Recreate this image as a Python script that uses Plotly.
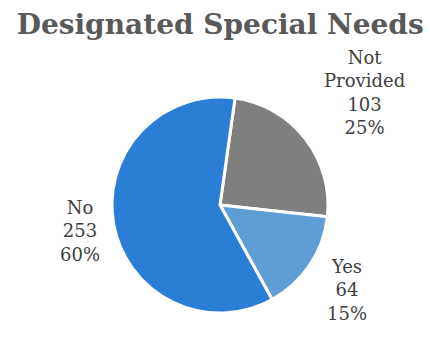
import math
import plotly.graph_objects as go

# Designated special needs breakdown
categories = ["Not Provided", "Yes", "No"]
label_lines = [["Not", "Provided"], ["Yes"], ["No"]]
counts = [103, 64, 253]
slice_colors = ["#7f7f7f", "#5f9ed4", "#2b7ed6"]

total = sum(counts)
percents = [round(100 * c / total) for c in counts]

W, H = 430, 339
cx, cy, r = 220, 205, 108  # pie centre and radius in pixels
start_deg = 8               # first slice starts a little clockwise of 12 o'clock
label_gap = 12              # space between the rim and the label box
font_size = 18
line_h = font_size * 1.3
char_w = font_size * 0.6

fig = go.Figure()
fig.add_trace(go.Pie(
    labels=categories,
    values=counts,
    textinfo="none",
    sort=False,
    direction="clockwise",
    rotation=start_deg,
    marker=dict(colors=slice_colors, line=dict(color="white", width=3)),
    domain=dict(x=[(cx - r) / W, (cx + r) / W], y=[(H - cy - r) / H, (H - cy + r) / H]),
    showlegend=False,
    hoverinfo="label+value+percent",
))

# Data labels: centred on each slice's mid-angle, just outside the rim
cum = 0
for lines, c, p in zip(label_lines, counts, percents):
    mid = math.radians(start_deg + 360 * (cum + c / 2) / total)
    cum += c
    rows = lines + [str(c), f"{p}%"]
    half_w = max(len(s) for s in rows) * char_w / 2
    half_h = len(rows) * line_h / 2
    ux, uy = math.sin(mid), -math.cos(mid)
    d = r + label_gap + abs(ux) * half_w + abs(uy) * half_h
    px, py = cx + d * ux, cy + d * uy
    fig.add_annotation(
        x=px / W, y=1 - py / H, xref="paper", yref="paper",
        xanchor="center", yanchor="middle", showarrow=False,
        text="<br>".join(rows), align="center",
        font=dict(family="DejaVu Serif", size=font_size, color="#404040"),
    )

fig.update_layout(
    width=W, height=H,
    margin=dict(l=0, r=0, t=0, b=0),
    paper_bgcolor="white",
    title=dict(
        text="<b>Designated Special Needs</b>",
        x=0.512, xanchor="center", y=0.93, yanchor="middle",
        font=dict(family="DejaVu Serif", size=28, color="#595959"),
    ),
)

fig.write_html("out.html")
